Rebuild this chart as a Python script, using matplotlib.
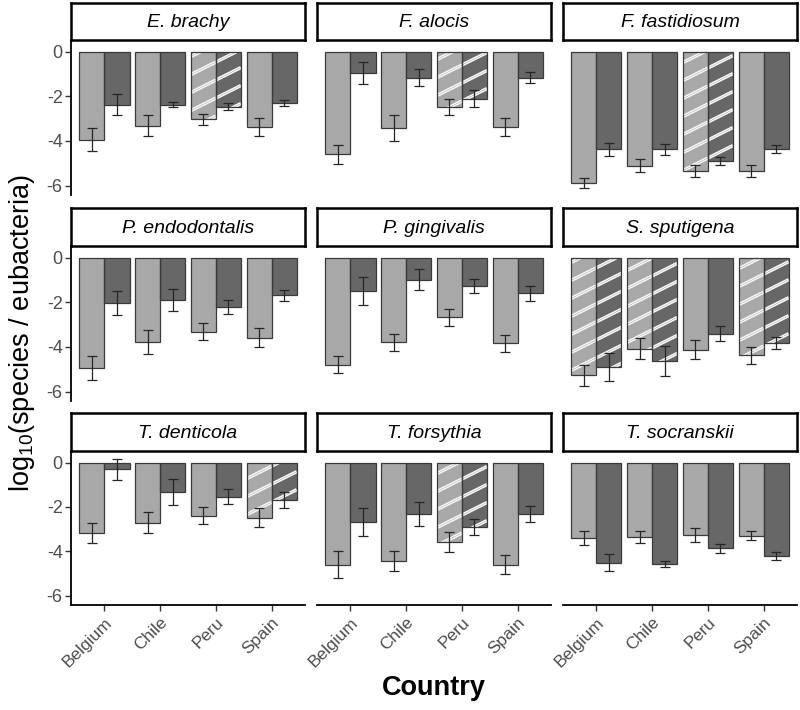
import numpy as np
import matplotlib
matplotlib.use('Agg')
import matplotlib.pyplot as plt

plt.rcParams['font.family'] = ['Liberation Sans', 'DejaVu Sans']
plt.rcParams['mathtext.fontset'] = 'custom'
plt.rcParams['mathtext.rm'] = 'Liberation Sans'
plt.rcParams['axes.unicode_minus'] = False

# data (log10 ratios, mean and error)
species = ["E. brachy", "F. alocis", "F. fastidiosum",
           "P. endodontalis", "P. gingivalis", "S. sputigena",
           "T. denticola", "T. forsythia", "T. socranskii"]
countries = ["Belgium", "Chile", "Peru", "Spain"]

light_mean = [
    [-3.94, -3.32, -3.03, -3.36],
    [-4.59, -3.42, -2.49, -3.39],
    [-5.90, -5.11, -5.34, -5.34],
    [-4.94, -3.76, -3.31, -3.58],
    [-4.79, -3.79, -2.67, -3.84],
    [-5.27, -4.08, -4.12, -4.38],
    [-3.17, -2.72, -2.40, -2.49],
    [-4.60, -4.45, -3.58, -4.60],
    [-3.40, -3.34, -3.25, -3.29],
]
light_err = [
    [0.52, 0.47, 0.24, 0.41],
    [0.43, 0.56, 0.35, 0.41],
    [0.22, 0.28, 0.27, 0.28],
    [0.55, 0.54, 0.38, 0.44],
    [0.38, 0.39, 0.38, 0.39],
    [0.47, 0.48, 0.43, 0.39],
    [0.45, 0.47, 0.39, 0.43],
    [0.61, 0.45, 0.47, 0.42],
    [0.31, 0.27, 0.31, 0.21],
]
dark_mean = [
    [-2.37, -2.37, -2.46, -2.29],
    [-0.95, -1.16, -2.10, -1.16],
    [-4.37, -4.37, -4.89, -4.37],
    [-2.02, -1.89, -2.22, -1.69],
    [-1.48, -0.98, -1.27, -1.60],
    [-4.89, -4.62, -3.41, -3.84],
    [-0.31, -1.33, -1.54, -1.69],
    [-2.68, -2.31, -2.90, -2.32],
    [-4.52, -4.57, -3.86, -4.21],
]
dark_err = [
    [0.46, 0.13, 0.17, 0.14],
    [0.48, 0.39, 0.37, 0.25],
    [0.30, 0.25, 0.17, 0.17],
    [0.53, 0.50, 0.30, 0.24],
    [0.63, 0.45, 0.32, 0.35],
    [0.62, 0.66, 0.33, 0.27],
    [0.46, 0.57, 0.34, 0.34],
    [0.63, 0.54, 0.36, 0.34],
    [0.38, 0.13, 0.21, 0.19],
]
# striped (hatched) country groups per panel
striped = [
    [0, 0, 1, 0],
    [0, 0, 1, 0],
    [0, 0, 1, 0],
    [0, 0, 0, 0],
    [0, 0, 0, 0],
    [1, 1, 0, 1],
    [0, 0, 0, 1],
    [0, 0, 1, 0],
    [0, 0, 0, 0],
]

LIGHT = "#a8a8a8"
DARK = "#676767"
EDGE = "#3a3a3a"
AXGREY = "#4d4d4d"

W, H = 800, 710
fig = plt.figure(figsize=(W / 100, H / 100), dpi=100)

col_left = [71, 317, 563]
panel_w = 234
strip_top = [3, 208, 413]
panel_top = [40, 246, 451]
panel_bot = [195, 401, 605]


def fig_box(x0, y0, x1, y1):
    return [x0 / W, 1 - y1 / H, (x1 - x0) / W, (y1 - y0) / H]


def add_stripes(ax, rect):
    # diagonal white double lines clipped to the bar
    x0, y0 = rect.get_x(), rect.get_y()
    x1, y1 = x0 + rect.get_width(), y0 + rect.get_height()
    (px0, py0), (px1, py1) = ax.transData.transform([(x0, min(y0, y1)), (x1, max(y0, y1))])
    slope, gap = 0.5, 18.0
    cmin = py0 - slope * px1 - gap
    cmax = py1 - slope * px0 + gap
    k0 = int(np.floor(cmin / gap))
    k1 = int(np.ceil(cmax / gap))
    inv = ax.transData.inverted()
    for k in range(k0, k1 + 1):
        c = k * gap
        pts = inv.transform([(px0, slope * px0 + c), (px1, slope * px1 + c)])
        for lw, col in ((2.4, "white"), (0.7, "#c8c8c8")):
            ln, = ax.plot(pts[:, 0], pts[:, 1], color=col, lw=lw, zorder=2,
                          solid_capstyle="butt")
            ln.set_clip_path(rect)


x = np.arange(1, len(countries) + 1)
bw = 0.45

for i, sp in enumerate(species):
    r, c = divmod(i, 3)
    ax = fig.add_axes(fig_box(col_left[c], panel_top[r], col_left[c] + panel_w, panel_bot[r]))
    ax.set_xlim(0.4, 4.6)
    ax.set_ylim(-6.42, 0.52)

    lb = ax.bar(x - bw / 2, light_mean[i], bw, color=LIGHT, edgecolor="none", zorder=1)
    db = ax.bar(x + bw / 2, dark_mean[i], bw, color=DARK, edgecolor="none", zorder=1)
    for j in range(len(countries)):
        if striped[i][j]:
            add_stripes(ax, lb[j])
            add_stripes(ax, db[j])
    # outlines on top of stripes
    ax.bar(x - bw / 2, light_mean[i], bw, color="none", edgecolor=EDGE, lw=0.9, zorder=3)
    ax.bar(x + bw / 2, dark_mean[i], bw, color="none", edgecolor=EDGE, lw=0.9, zorder=3)

    ax.errorbar(x - bw / 2, light_mean[i], yerr=light_err[i], fmt="none", ecolor="#262626",
                elinewidth=0.9, capsize=3.6, capthick=0.9, zorder=4)
    ax.errorbar(x + bw / 2, dark_mean[i], yerr=dark_err[i], fmt="none", ecolor="#262626",
                elinewidth=0.9, capsize=3.6, capthick=0.9, zorder=4)

    for s in ["top", "right"]:
        ax.spines[s].set_visible(False)
    ax.spines["left"].set_linewidth(1.3)
    ax.spines["bottom"].set_linewidth(1.3)
    ax.set_yticks([0, -2, -4, -6])
    ax.set_xticks(x)
    if c == 0:
        ax.tick_params(axis="y", length=4, width=1, color="#333333", labelsize=13,
                       labelcolor=AXGREY, pad=2)
    else:
        ax.spines["left"].set_visible(False)
        ax.tick_params(axis="y", length=0, labelleft=False)
    if r == 2:
        ax.set_xticklabels(countries, rotation=45, ha="right", rotation_mode="anchor")
        ax.tick_params(axis="x", length=4, width=1, color="#333333", labelsize=12.5,
                       labelcolor=AXGREY, pad=3)
    else:
        ax.spines["bottom"].set_visible(False)
        ax.tick_params(axis="x", length=0, labelbottom=False)

    # facet strip
    st = fig.add_axes(fig_box(col_left[c], strip_top[r], col_left[c] + panel_w, panel_top[r]))
    st.set_xticks([])
    st.set_yticks([])
    for s in st.spines.values():
        s.set_linewidth(1.8)
        s.set_color("black")
    st.text(0.5, 0.47, sp, ha="center", va="center", fontsize=14, style="italic",
            transform=st.transAxes)

fig.text(22 / W, 1 - 333 / H, r"$\mathregular{log_{10}}$(species / eubacteria)",
         rotation=90, ha="center", va="center", fontsize=19.5)
fig.text(434 / W, 1 - 688 / H, "Country", ha="center", va="center", fontsize=19.5,
         fontweight="bold")

fig.savefig("out.png", dpi=100)
